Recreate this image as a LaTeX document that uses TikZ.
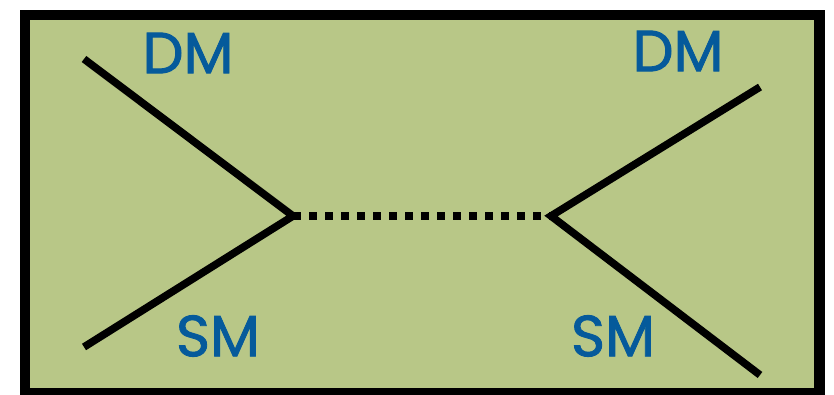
\documentclass[tikz,border=0pt]{standalone}
\usepackage{fontspec}
\setmainfont{Poppins}[FakeBold=1.5]
\definecolor{box_green}{RGB}{184,199,135}
\definecolor{label_blue}{RGB}{5,90,155}
\begin{document}
\begin{tikzpicture}[x=1pt,y=-1pt,line cap=butt]
    \tikzstyle{frame}=[draw=black, line width=10.5pt, fill=box_green]
    \tikzstyle{line}=[draw=black, line width=7.6pt]
    \tikzstyle{label}=[text=label_blue, font=\fontsize{58}{58}\selectfont, inner sep=0pt]

    \useasboundingbox (0,0) rectangle (834,395);
    \draw[frame] (25,15) rectangle (819.5,393);

    \coordinate (dm1) at (84,59);
    \coordinate (sm1) at (84,347);
    \coordinate (dm2) at (760,87);
    \coordinate (sm2) at (760,375);
    \coordinate (v1)  at (293,216);
    \coordinate (v2)  at (551,216);

    \node[label] (l1) at (188,53)  {DM};
    \node[label] (l2) at (678,51)  {DM};
    \node[label] (l3) at (218,336) {SM};
    \node[label] (l4) at (613,336) {SM};

    \draw[line] (dm1) -- (v1) -- (sm1);
    \draw[line] (dm2) -- (v2) -- (sm2);
    \draw[line, dash pattern=on 8pt off 8pt] (v1) -- (v2);
\end{tikzpicture}
\end{document}
